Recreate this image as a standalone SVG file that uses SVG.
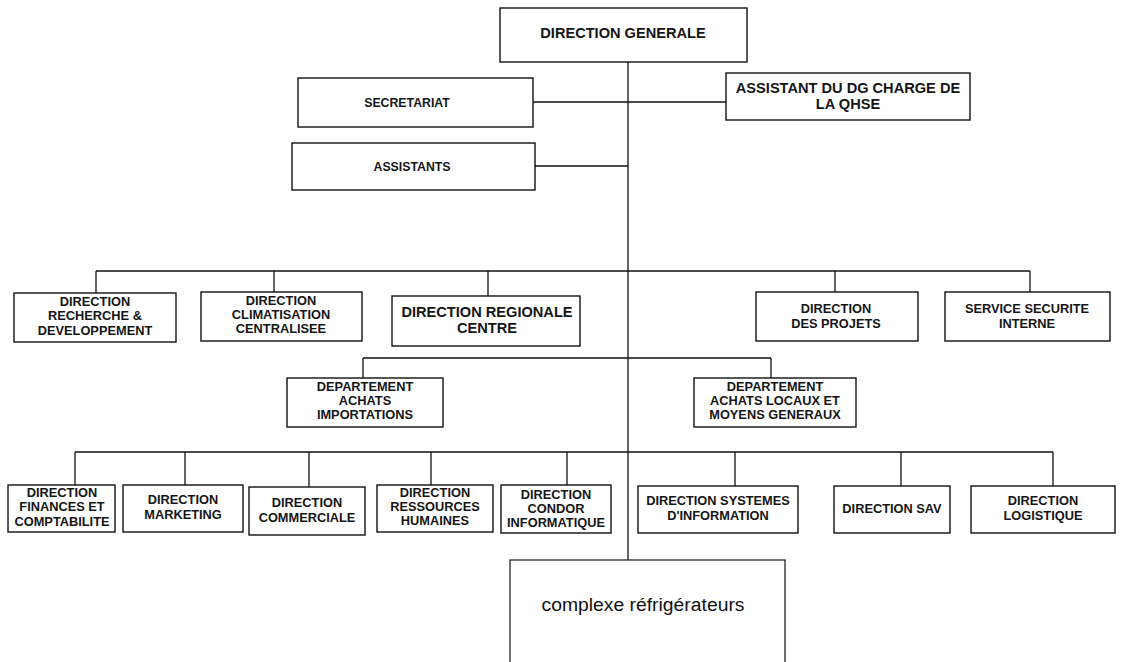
<svg xmlns="http://www.w3.org/2000/svg" width="1127" height="662" viewBox="0 0 1127 662">
<style>
.b{fill:#fff;stroke:#111;stroke-width:1.4}
.t{font-family:"Liberation Sans",Arial,sans-serif;font-weight:bold;font-size:12.8px;fill:#151515;text-anchor:middle}
.s{font-size:12.3px}
.l{font-size:14.6px}
.c{stroke:#111;stroke-width:1.3;fill:none}
</style>
<rect width="1127" height="662" fill="#fff"/>
<g id="connectors">
<line class="c" x1="628" y1="62" x2="628" y2="560"/>
<line class="c" x1="533" y1="102" x2="726" y2="102"/>
<line class="c" x1="535" y1="166" x2="628" y2="166"/>
<line class="c" x1="96" y1="271" x2="1030" y2="271"/>
<line class="c" x1="96" y1="271" x2="96" y2="293"/>
<line class="c" x1="274" y1="271" x2="274" y2="292"/>
<line class="c" x1="488" y1="271" x2="488" y2="296"/>
<line class="c" x1="835" y1="271" x2="835" y2="292"/>
<line class="c" x1="1030" y1="271" x2="1030" y2="292"/>
<line class="c" x1="363" y1="358" x2="771" y2="358"/>
<line class="c" x1="363" y1="358" x2="363" y2="378"/>
<line class="c" x1="771" y1="358" x2="771" y2="378"/>
<line class="c" x1="75" y1="452" x2="1053" y2="452"/>
<line class="c" x1="75" y1="452" x2="75" y2="485"/>
<line class="c" x1="185" y1="452" x2="185" y2="485"/>
<line class="c" x1="309" y1="452" x2="309" y2="487"/>
<line class="c" x1="431" y1="452" x2="431" y2="485"/>
<line class="c" x1="567" y1="452" x2="567" y2="485"/>
<line class="c" x1="735" y1="452" x2="735" y2="486"/>
<line class="c" x1="901" y1="452" x2="901" y2="486"/>
<line class="c" x1="1053" y1="452" x2="1053" y2="486"/>
</g>
<g id="dg"><rect class="b" x="500" y="8" width="247" height="54"/><text class="t l" x="623" y="38">DIRECTION GENERALE</text></g>
<g id="secretariat"><rect class="b" x="298" y="78" width="235" height="49"/><text class="t s" x="407" y="107">SECRETARIAT</text></g>
<g id="qhse"><rect class="b" x="726" y="73" width="244" height="47"/><text class="t l" x="848" y="93">ASSISTANT DU DG CHARGE DE</text><text class="t l" x="848" y="109">LA QHSE</text></g>
<g id="assistants"><rect class="b" x="292" y="143" width="243" height="47"/><text class="t s" x="412" y="171">ASSISTANTS</text></g>
<g id="rd"><rect class="b" x="14" y="293" width="162" height="49"/><text class="t" x="95" y="306">DIRECTION</text><text class="t" x="95" y="320">RECHERCHE &amp;</text><text class="t" x="95" y="335">DEVELOPPEMENT</text></g>
<g id="clim"><rect class="b" x="201" y="292" width="161" height="49"/><text class="t" x="281" y="305">DIRECTION</text><text class="t" x="281" y="319">CLIMATISATION</text><text class="t" x="281" y="333">CENTRALISEE</text></g>
<g id="regionale"><rect class="b" x="392" y="296" width="188" height="50"/><text class="t l" x="487" y="317">DIRECTION REGIONALE</text><text class="t l" x="487" y="333">CENTRE</text></g>
<g id="projets"><rect class="b" x="756" y="292" width="162" height="49"/><text class="t" x="836" y="313">DIRECTION</text><text class="t" x="836" y="328">DES PROJETS</text></g>
<g id="securite"><rect class="b" x="945" y="292" width="165" height="49"/><text class="t" x="1027" y="313">SERVICE SECURITE</text><text class="t" x="1027" y="328">INTERNE</text></g>
<g id="importations"><rect class="b" x="287" y="378" width="156" height="49"/><text class="t" x="365" y="391">DEPARTEMENT</text><text class="t" x="365" y="405">ACHATS</text><text class="t" x="365" y="419">IMPORTATIONS</text></g>
<g id="locaux"><rect class="b" x="694" y="378" width="162" height="49"/><text class="t" x="775" y="391">DEPARTEMENT</text><text class="t" x="775" y="405">ACHATS LOCAUX ET</text><text class="t" x="775" y="419">MOYENS GENERAUX</text></g>
<g id="finances"><rect class="b" x="8" y="485" width="107" height="47"/><text class="t" x="62" y="497">DIRECTION</text><text class="t" x="62" y="511">FINANCES ET</text><text class="t" x="62" y="526">COMPTABILITE</text></g>
<g id="marketing"><rect class="b" x="123" y="485" width="120" height="47"/><text class="t" x="183" y="504">DIRECTION</text><text class="t" x="183" y="519">MARKETING</text></g>
<g id="commerciale"><rect class="b" x="249" y="487" width="116" height="48"/><text class="t" x="307" y="507">DIRECTION</text><text class="t" x="307" y="522">COMMERCIALE</text></g>
<g id="rh"><rect class="b" x="377" y="485" width="116" height="47"/><text class="t" x="435" y="497">DIRECTION</text><text class="t" x="435" y="511">RESSOURCES</text><text class="t" x="435" y="525">HUMAINES</text></g>
<g id="condor"><rect class="b" x="501" y="485" width="110" height="48"/><text class="t" x="556" y="499">DIRECTION</text><text class="t" x="556" y="513">CONDOR</text><text class="t" x="556" y="527">INFORMATIQUE</text></g>
<g id="si"><rect class="b" x="638" y="486" width="160" height="47"/><text class="t" x="718" y="505">DIRECTION SYSTEMES</text><text class="t" x="718" y="520">D'INFORMATION</text></g>
<g id="sav"><rect class="b" x="834" y="486" width="116" height="47"/><text class="t" x="892" y="513">DIRECTION SAV</text></g>
<g id="logistique"><rect class="b" x="971" y="486" width="144" height="47"/><text class="t" x="1043" y="505">DIRECTION</text><text class="t" x="1043" y="520">LOGISTIQUE</text></g>
<g id="complexe"><rect x="510" y="560" width="275" height="110" fill="#fff" stroke="#222" stroke-width="1.3"/><text x="643" y="611" font-family="'Liberation Sans',Arial,sans-serif" font-size="18" fill="#111" text-anchor="middle" textLength="203" lengthAdjust="spacingAndGlyphs">complexe réfrigérateurs</text></g>
</svg>
